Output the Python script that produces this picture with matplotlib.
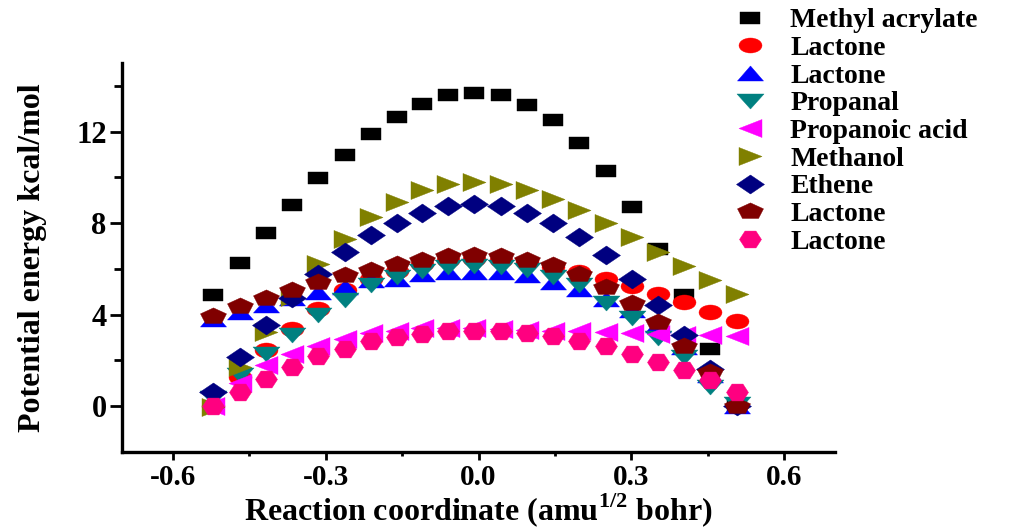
import numpy as np
import matplotlib
matplotlib.use("Agg")
import matplotlib.pyplot as plt
from matplotlib.path import Path

# ---------------- data ----------------
x = [-0.521, -0.468, -0.417, -0.366, -0.315, -0.263, -0.212, -0.161, -0.110, -0.059,
     -0.009, 0.044, 0.096, 0.147, 0.198, 0.250, 0.301, 0.353, 0.404, 0.455, 0.507]

methyl_acrylate = [4.85, 6.26, 7.57, 8.81, 9.97, 10.99, 11.91, 12.63, 13.22, 13.58, 13.70,
                   13.58, 13.17, 12.49, 11.52, 10.26, 8.70, 6.89, 4.88, 2.52, 0.0]
lactone_a = [0.0, 1.28, 2.45, 3.39, 4.27, 5.07, 5.57, 5.90, 6.20, 6.40, 6.45,
             6.40, 6.30, 6.10, 5.88, 5.57, 5.24, 4.92, 4.55, 4.12, 3.71]
lactone_b = [3.80, 4.12, 4.41, 4.74, 4.99, 5.21, 5.50, 5.57, 5.79, 5.87, 5.87,
             5.85, 5.72, 5.45, 5.14, 4.70, 4.19, 3.54, 2.60, 1.35, 0.0]
propanal = [0.35, 1.35, 2.30, 3.10, 3.97, 4.66, 5.28, 5.65, 5.91, 6.08, 6.11,
            6.08, 5.94, 5.65, 5.28, 4.50, 3.87, 2.97, 2.15, 0.84, 0.10]
propanoic_acid = [0.0, 1.02, 1.79, 2.30, 2.62, 2.96, 3.20, 3.30, 3.40, 3.40, 3.40,
                  3.38, 3.35, 3.30, 3.27, 3.25, 3.20, 3.15, 3.12, 3.10, 3.07]
methanol = [-0.05, 1.72, 3.25, 4.77, 6.23, 7.32, 8.27, 8.92, 9.43, 9.72, 9.80,
            9.72, 9.46, 9.07, 8.56, 8.00, 7.39, 6.74, 6.13, 5.50, 4.90]
ethene = [0.63, 2.15, 3.54, 4.74, 5.79, 6.74, 7.47, 8.00, 8.44, 8.73, 8.82,
          8.73, 8.44, 8.00, 7.39, 6.59, 5.57, 4.41, 3.10, 1.64, 0.0]
lactone_c = [3.93, 4.37, 4.74, 5.10, 5.43, 5.75, 5.94, 6.23, 6.40, 6.55, 6.59,
             6.55, 6.40, 6.16, 5.79, 5.21, 4.52, 3.66, 2.62, 1.50, 0.0]
lactone_d = [0.0, 0.63, 1.21, 1.72, 2.20, 2.52, 2.84, 3.03, 3.17, 3.27, 3.30,
             3.27, 3.20, 3.05, 2.84, 2.62, 2.30, 1.94, 1.57, 1.14, 0.63]

labels = ["Methyl acrylate", "Lactone", "Lactone", "Propanal", "Propanoic acid",
          "Methanol", "Ethene", "Lactone", "Lactone"]
series = [methyl_acrylate, lactone_a, lactone_b, propanal, propanoic_acid,
          methanol, ethene, lactone_c, lactone_d]
colors = ["#000000", "#FF0000", "#0000FF", "#008080", "#FF00FF",
          "#808000", "#000080", "#800000", "#FF0080"]

x_ticks = [-0.6, -0.3, 0.0, 0.3, 0.6]
y_ticks = [0, 4, 8, 12]

# ---------------- stretched marker shapes ----------------
def poly(pts):
    pts = list(pts) + [pts[0]]
    codes = [Path.MOVETO] + [Path.LINETO] * (len(pts) - 2) + [Path.CLOSEPOLY]
    return Path(pts, codes)

def regular(n, w, h, start):
    ang = np.deg2rad(start + 360.0 / n * np.arange(n))
    return [(0.5 * w * np.cos(a), 0.5 * h * np.sin(a)) for a in ang]

circ = Path.unit_circle()
ellipse = Path(circ.vertices * np.array([1.0, 15.0 / 23.0]), circ.codes)

# (path, width in px)
shapes = [
    (poly([(-10, -6.5), (10, -6.5), (10, 6.5), (-10, 6.5)]), 20),
    (ellipse, 23),
    (poly([(-13, -7.5), (13, -7.5), (0, 7.5)]), 26),
    (poly([(-13.5, 7.5), (13.5, 7.5), (0, -7.5)]), 27),
    (poly([(-11.5, 0), (11.5, 9), (11.5, -9)]), 23),
    (poly([(11.5, 0), (-11.5, 9), (-11.5, -9)]), 23),
    (poly([(-14, 0), (0, 9.5), (14, 0), (0, -9.5)]), 28),
    (poly(regular(5, 27, 17, 90)), 26),
    (poly(regular(6, 22, 19.5, 0)), 22),
]

DPI = 100
px2pt = 72.0 / DPI

plt.rcParams['font.family'] = ['Liberation Serif', 'DejaVu Serif']
plt.rcParams['font.weight'] = 'bold'
plt.rcParams['mathtext.fontset'] = 'custom'
plt.rcParams['mathtext.rm'] = 'Liberation Serif:bold'
plt.rcParams['mathtext.bf'] = 'Liberation Serif:bold'

fig = plt.figure(figsize=(10.18, 5.31), dpi=DPI)
ax = fig.add_axes([122 / 1018, (531 - 452) / 531, (835 - 122) / 1018, (452 - 63) / 531])

handles = []
for ys, lab, col, (pth, w) in zip(series, labels, colors, shapes):
    h, = ax.plot(x, ys, linestyle='none', marker=pth, markersize=w * px2pt,
                 markerfacecolor=col, markeredgecolor=col, markeredgewidth=0.3,
                 label=lab)
    handles.append(h)

ax.set_xlim(-0.7, 0.7)
ax.set_ylim(-2, 15)
ax.set_xticks(x_ticks)
ax.set_xticklabels([f"{v:.1f}" for v in x_ticks])
ax.set_xticks([-0.45, -0.15, 0.15, 0.45], minor=True)
ax.set_yticks(y_ticks)
ax.set_yticks([2, 6, 10, 14], minor=True)

for s in ['top', 'right']:
    ax.spines[s].set_visible(False)
for s in ['left', 'bottom']:
    ax.spines[s].set_linewidth(2.4)

ax.tick_params(axis='x', which='major', direction='out', length=5.5, width=2.0,
               labelsize=21, pad=3)
ax.tick_params(axis='x', which='minor', direction='out', length=3.2, width=2.0)
ax.tick_params(axis='y', which='major', direction='out', length=9, width=2.0,
               labelsize=22, pad=2)
ax.tick_params(axis='y', which='minor', direction='out', length=6, width=2.0)
for t in ax.get_xticklabels() + ax.get_yticklabels():
    t.set_fontweight('bold')

ax.set_xlabel(r"Reaction coordinate (amu$^{\mathbf{1/2}}$ bohr)", fontsize=23,
              fontweight='bold', labelpad=0)
ax.set_ylabel("Potential energy kcal/mol", fontsize=23, fontweight='bold', labelpad=21)

leg = fig.legend(handles=handles, loc='upper left',
                 bbox_to_anchor=(729 / 1018, 1 - 8 / 531),
                 frameon=False, numpoints=1, handlelength=1.5, handletextpad=0.7,
                 borderpad=0, borderaxespad=0, labelspacing=0.08,
                 prop={'family': 'Liberation Serif', 'weight': 'bold', 'size': 20})

fig.savefig("out.png", dpi=DPI)
